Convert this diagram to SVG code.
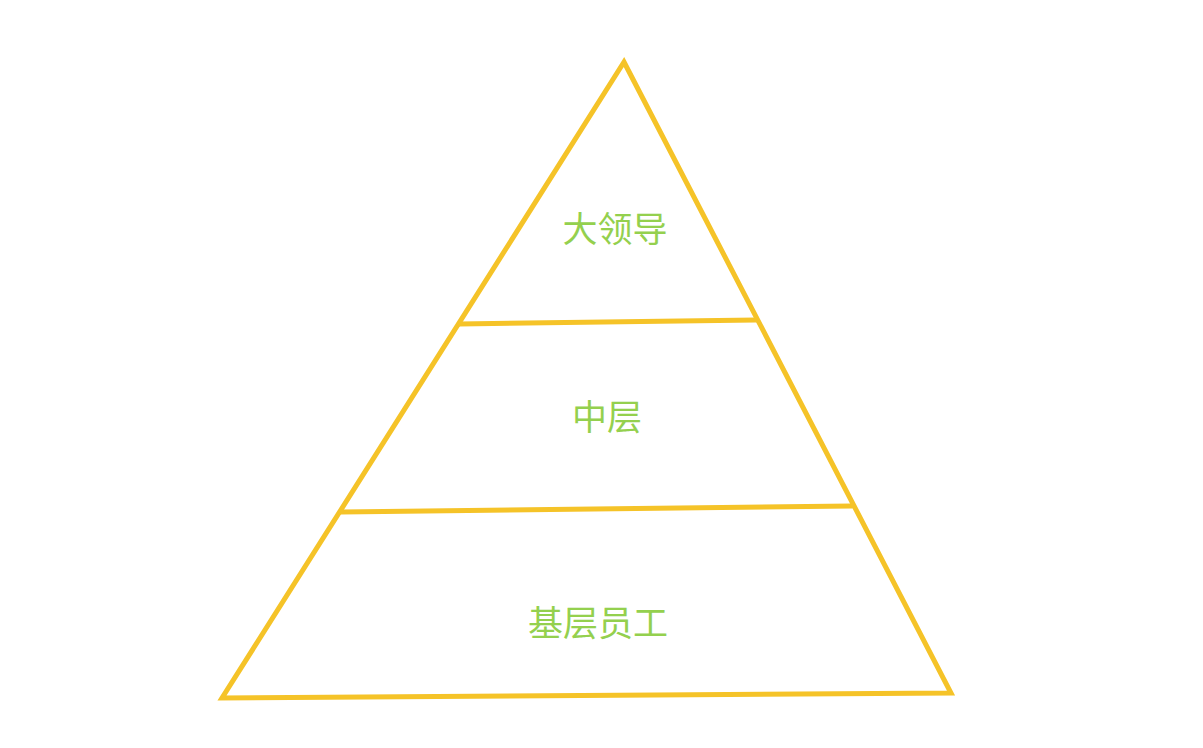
<svg xmlns="http://www.w3.org/2000/svg" width="1203" height="748" viewBox="0 0 1203 748">
<style>
.ln{stroke:#F5C328;stroke-width:5;fill:none;stroke-linecap:round;stroke-linejoin:miter}
.t{font-family:"Noto Sans CJK SC","Liberation Sans",sans-serif;font-size:35px;fill:#94D04E;text-anchor:middle}
</style>
<rect width="1203" height="748" fill="#ffffff"/>
<g id="connectors">
<path class="ln" d="M624,62 L951,693 L222,698 Z"/>
<line class="ln" x1="459" y1="324" x2="756" y2="320"/>
<line class="ln" x1="341" y1="512" x2="852" y2="506"/>
</g>
<g id="top"><text class="t" x="615" y="242">大领导</text></g>
<g id="middle"><text class="t" x="607" y="430">中层</text></g>
<g id="bottom"><text class="t" x="598" y="636">基层员工</text></g>
</svg>
